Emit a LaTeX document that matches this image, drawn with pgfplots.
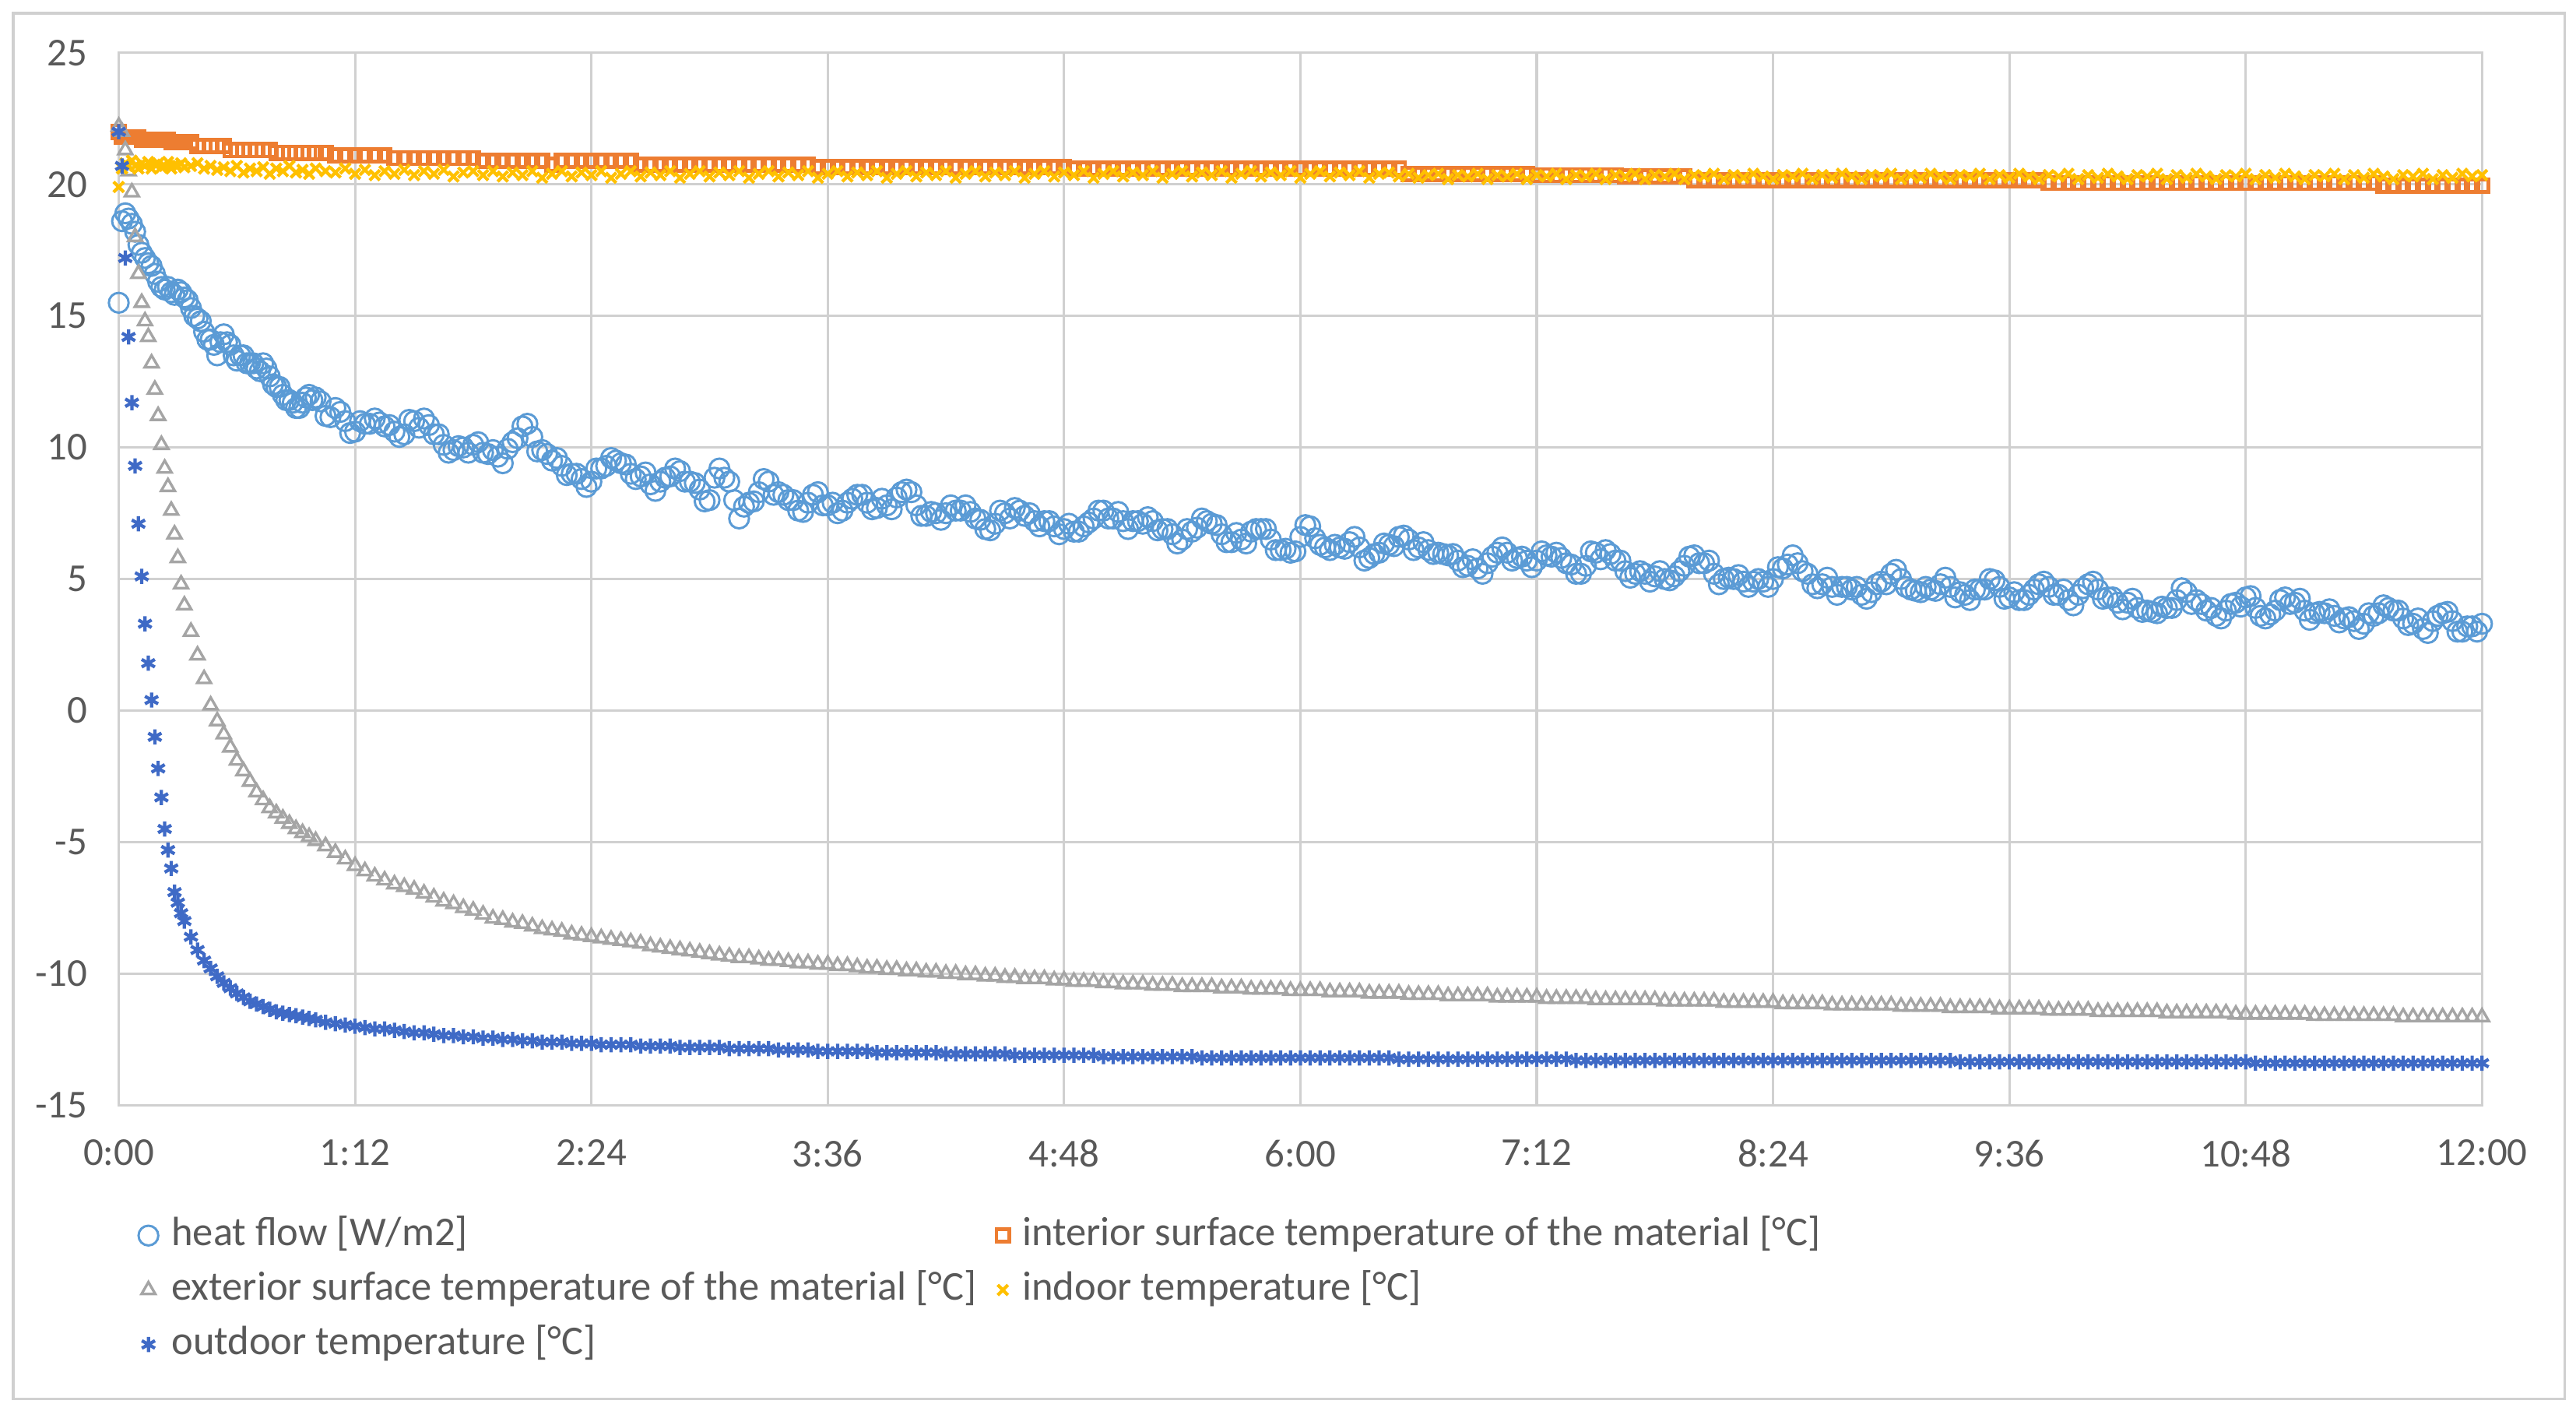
\documentclass[border=0pt]{standalone}
\usepackage{fontspec}
\setmainfont{Carlito}
\usepackage{pgfplots}
\usepackage{pgfplotstable}
\pgfplotsset{compat=1.18}
\definecolor{hfc}{HTML}{5B9BD5}
\definecolor{tic}{HTML}{ED7D31}
\definecolor{tec}{HTML}{A5A5A5}
\definecolor{tinc}{HTML}{FFC000}
\definecolor{toutc}{HTML}{3F6AC6}
\definecolor{gridc}{HTML}{D0D0D0}
\definecolor{labc}{HTML}{595959}
\pgfplotstableread{
t hf ti te tin tout
0 15.5 22.0 22.2 19.9 22.0
1 18.6 21.8 22.0 20.6 20.7
2 18.9 21.8 21.3 20.8 17.2
3 18.7 21.8 20.5 20.7 14.2
4 18.5 21.8 19.7 20.9 11.7
5 18.2 21.8 18.0 20.7 9.3
6 17.7 21.8 16.6 20.6 7.1
7 17.4 21.7 15.5 20.8 5.1
8 17.2 21.7 14.8 20.7 3.3
9 17.0 21.7 14.2 20.85 1.8
10 16.9 21.7 13.2 20.6 0.4
11 16.6 21.7 12.2 20.75 -1.0
12 16.3 21.7 11.2 20.8 -2.2
13 16.1 21.7 10.1 20.65 -3.3
14 16.0 21.7 9.2 20.7 -4.5
15 16.1 21.7 8.5 20.85 -5.3
16 15.9 21.6 7.6 20.6 -6.0
17 15.8 21.6 6.7 20.75 -6.9
18 16.0 21.6 5.8 20.7 -7.3
19 15.9 21.6 4.8 20.8 -7.7
20 15.7 21.6 4.0 20.65 -8.0
22 15.3 21.6 3.0 20.7 -8.6
24 14.9 21.45 2.1 20.8 -9.1
26 14.4 21.45 1.2 20.6 -9.5
28 14.1 21.45 0.2 20.7 -9.8
30 13.5 21.45 -0.4 20.55 -10.1
32 14.3 21.45 -0.9 20.65 -10.35
34 13.9 21.3 -1.4 20.5 -10.55
36 13.3 21.3 -1.9 20.7 -10.75
38 13.5 21.3 -2.3 20.45 -10.9
40 13.2 21.3 -2.7 20.6 -11.05
42 13.0 21.3 -3.1 20.5 -11.15
44 13.2 21.3 -3.4 20.65 -11.25
46 12.7 21.3 -3.7 20.4 -11.35
48 12.3 21.2 -3.9 20.6 -11.45
50 12.0 21.2 -4.1 20.5 -11.5
52 11.8 21.2 -4.3 20.7 -11.55
54 11.5 21.2 -4.5 20.45 -11.6
56 11.7 21.2 -4.65 20.55 -11.65
58 12.0 21.2 -4.8 20.4 -11.7
60 11.9 21.2 -4.95 20.6 -11.75
63 11.2 21.2 -5.15 20.5 -11.85
66 11.5 21.1 -5.4 20.45 -11.9
69 11.0 21.1 -5.65 20.6 -11.95
72 10.6 21.1 -5.9 20.4 -12.0
75 10.9 21.1 -6.1 20.55 -12.05
78 11.1 21.1 -6.3 20.35 -12.1
81 10.8 21.1 -6.45 20.5 -12.1
84 10.6 21.0 -6.6 20.4 -12.15
87 10.5 21.0 -6.7 20.55 -12.2
90 11.0 21.0 -6.8 20.35 -12.25
93 11.1 21.0 -6.95 20.5 -12.25
96 10.5 21.0 -7.1 20.4 -12.3
99 10.1 21.0 -7.25 20.55 -12.35
102 9.9 21.0 -7.35 20.3 -12.35
105 10.0 21.0 -7.5 20.45 -12.4
108 10.1 21.0 -7.6 20.5 -12.4
111 9.8 20.9 -7.75 20.35 -12.45
114 9.9 20.9 -7.9 20.5 -12.45
117 9.4 20.9 -7.95 20.3 -12.5
120 10.2 20.9 -8.05 20.45 -12.5
123 10.8 20.9 -8.1 20.35 -12.55
126 10.4 20.9 -8.2 20.5 -12.55
129 9.9 20.9 -8.3 20.25 -12.6
132 9.5 20.75 -8.35 20.4 -12.6
135 9.3 20.9 -8.4 20.5 -12.6
138 9.0 20.9 -8.5 20.3 -12.65
141 8.8 20.9 -8.55 20.45 -12.65
144 8.7 20.9 -8.6 20.35 -12.65
147 9.2 20.9 -8.65 20.5 -12.7
150 9.6 20.9 -8.7 20.25 -12.7
153 9.4 20.9 -8.75 20.4 -12.7
156 9.0 20.9 -8.8 20.5 -12.7
159 8.9 20.75 -8.85 20.3 -12.75
162 8.6 20.75 -8.95 20.45 -12.75
165 8.7 20.75 -9.0 20.35 -12.75
168 8.9 20.75 -9.05 20.5 -12.75
171 9.1 20.75 -9.1 20.25 -12.8
174 8.7 20.75 -9.15 20.4 -12.8
177 8.4 20.75 -9.2 20.5 -12.8
180 8.0 20.75 -9.25 20.3 -12.8
183 9.2 20.75 -9.3 20.45 -12.8
186 8.7 20.75 -9.35 20.35 -12.85
189 7.3 20.75 -9.4 20.5 -12.85
192 7.9 20.75 -9.4 20.25 -12.85
195 8.3 20.75 -9.45 20.4 -12.85
198 8.7 20.75 -9.5 20.5 -12.85
201 8.3 20.75 -9.5 20.3 -12.9
204 8.0 20.75 -9.55 20.45 -12.9
207 7.6 20.75 -9.6 20.35 -12.9
210 7.9 20.75 -9.6 20.5 -12.9
213 8.3 20.65 -9.65 20.25 -12.95
216 7.8 20.65 -9.65 20.4 -12.95
219 7.5 20.65 -9.7 20.5 -12.95
222 7.9 20.65 -9.7 20.3 -12.95
225 8.2 20.65 -9.75 20.45 -12.95
228 7.9 20.65 -9.8 20.35 -12.95
231 7.7 20.65 -9.8 20.5 -13.0
234 7.8 20.65 -9.85 20.25 -13.0
237 8.1 20.65 -9.85 20.4 -13.0
240 8.4 20.65 -9.9 20.5 -13.0
243 7.8 20.65 -9.9 20.3 -13.0
246 7.4 20.65 -9.95 20.45 -13.0
249 7.5 20.65 -9.95 20.35 -13.0
252 7.5 20.65 -10.0 20.5 -13.05
255 7.6 20.65 -10.0 20.25 -13.05
258 7.8 20.65 -10.05 20.4 -13.05
261 7.3 20.65 -10.05 20.5 -13.05
264 6.9 20.65 -10.1 20.3 -13.05
267 7.1 20.65 -10.1 20.45 -13.05
270 7.5 20.65 -10.15 20.35 -13.05
273 7.7 20.65 -10.15 20.5 -13.1
276 7.4 20.65 -10.2 20.25 -13.1
279 7.2 20.65 -10.2 20.4 -13.1
282 7.2 20.65 -10.2 20.5 -13.1
285 7.0 20.65 -10.25 20.3 -13.1
288 6.9 20.65 -10.25 20.45 -13.1
291 6.8 20.6 -10.3 20.35 -13.1
294 7.0 20.6 -10.3 20.5 -13.1
297 7.3 20.6 -10.3 20.25 -13.1
300 7.6 20.6 -10.35 20.4 -13.15
303 7.3 20.6 -10.35 20.5 -13.15
306 7.2 20.6 -10.4 20.3 -13.15
309 7.2 20.6 -10.4 20.45 -13.15
312 7.1 20.6 -10.4 20.35 -13.15
315 7.2 20.6 -10.45 20.5 -13.15
318 6.9 20.6 -10.45 20.25 -13.15
321 6.7 20.6 -10.45 20.4 -13.15
324 6.5 20.6 -10.5 20.5 -13.15
327 6.8 20.6 -10.5 20.3 -13.15
330 7.3 20.6 -10.5 20.45 -13.2
333 7.1 20.6 -10.5 20.35 -13.2
336 6.7 20.6 -10.55 20.5 -13.2
339 6.4 20.6 -10.55 20.25 -13.2
342 6.5 20.6 -10.55 20.4 -13.2
345 6.8 20.6 -10.6 20.5 -13.2
348 6.9 20.6 -10.6 20.3 -13.2
351 6.5 20.6 -10.6 20.45 -13.2
354 6.1 20.6 -10.6 20.35 -13.2
357 6.0 20.6 -10.65 20.5 -13.2
360 6.6 20.6 -10.65 20.25 -13.2
363 7.0 20.6 -10.65 20.4 -13.2
366 6.3 20.6 -10.65 20.5 -13.2
369 6.1 20.6 -10.7 20.3 -13.2
372 6.2 20.6 -10.7 20.45 -13.2
375 6.4 20.6 -10.7 20.35 -13.2
378 6.2 20.6 -10.7 20.5 -13.2
381 5.8 20.6 -10.75 20.25 -13.2
384 6.0 20.6 -10.75 20.4 -13.2
387 6.3 20.6 -10.75 20.45 -13.2
390 6.6 20.6 -10.75 20.3 -13.25
393 6.5 20.4 -10.8 20.4 -13.25
396 6.2 20.4 -10.8 20.25 -13.25
399 6.1 20.4 -10.8 20.35 -13.25
402 6.0 20.4 -10.8 20.4 -13.25
405 5.9 20.4 -10.85 20.2 -13.25
408 5.7 20.4 -10.85 20.35 -13.25
411 5.5 20.4 -10.85 20.3 -13.25
414 5.4 20.4 -10.85 20.4 -13.25
417 5.6 20.4 -10.85 20.2 -13.25
420 6.0 20.4 -10.9 20.35 -13.25
423 6.0 20.4 -10.9 20.3 -13.25
426 5.8 20.4 -10.9 20.4 -13.25
429 5.7 20.4 -10.9 20.2 -13.25
432 5.7 20.35 -10.9 20.35 -13.25
435 5.9 20.35 -10.95 20.3 -13.25
438 6.0 20.35 -10.95 20.4 -13.25
441 5.6 20.35 -10.95 20.2 -13.25
444 5.2 20.35 -10.95 20.35 -13.3
447 5.5 20.35 -10.95 20.3 -13.3
450 6.0 20.35 -11.0 20.4 -13.3
453 6.1 20.35 -11.0 20.2 -13.3
456 5.7 20.35 -11.0 20.35 -13.3
459 5.3 20.3 -11.0 20.3 -13.3
462 5.2 20.3 -11.0 20.4 -13.3
465 5.2 20.3 -11.0 20.2 -13.3
468 5.1 20.3 -11.0 20.35 -13.3
471 5.0 20.3 -11.05 20.3 -13.3
474 5.1 20.3 -11.05 20.4 -13.3
477 5.5 20.3 -11.05 20.2 -13.3
480 5.9 20.15 -11.05 20.35 -13.3
483 5.6 20.15 -11.05 20.3 -13.3
486 5.2 20.15 -11.05 20.4 -13.3
489 5.0 20.15 -11.1 20.2 -13.3
492 5.0 20.15 -11.1 20.35 -13.3
495 4.9 20.15 -11.1 20.25 -13.3
498 4.9 20.15 -11.1 20.4 -13.3
501 4.9 20.15 -11.1 20.3 -13.3
504 5.0 20.15 -11.1 20.2 -13.3
507 5.4 20.15 -11.15 20.35 -13.3
510 5.9 20.15 -11.15 20.3 -13.3
513 5.3 20.15 -11.15 20.4 -13.3
516 4.8 20.15 -11.15 20.2 -13.3
519 4.8 20.15 -11.15 20.35 -13.3
522 4.7 20.15 -11.2 20.25 -13.3
525 4.7 20.15 -11.2 20.4 -13.3
528 4.6 20.15 -11.2 20.3 -13.3
531 4.4 20.15 -11.2 20.2 -13.3
534 4.5 20.15 -11.2 20.35 -13.3
537 4.9 20.15 -11.2 20.3 -13.3
540 5.2 20.15 -11.2 20.4 -13.3
543 5.0 20.15 -11.25 20.2 -13.3
546 4.6 20.15 -11.25 20.35 -13.3
549 4.5 20.15 -11.25 20.25 -13.3
552 4.6 20.15 -11.25 20.4 -13.3
555 4.8 20.15 -11.25 20.3 -13.3
558 4.7 20.15 -11.3 20.2 -13.3
561 4.5 20.15 -11.3 20.35 -13.35
564 4.2 20.15 -11.3 20.3 -13.35
567 4.6 20.15 -11.3 20.4 -13.35
570 5.0 20.15 -11.3 20.2 -13.35
573 4.7 20.15 -11.35 20.35 -13.35
576 4.3 20.15 -11.35 20.25 -13.35
579 4.2 20.15 -11.35 20.4 -13.35
582 4.4 20.15 -11.35 20.3 -13.35
585 4.8 20.15 -11.35 20.2 -13.35
588 4.7 20.05 -11.4 20.35 -13.35
591 4.4 20.05 -11.4 20.3 -13.35
594 4.2 20.05 -11.4 20.4 -13.35
597 4.4 20.05 -11.4 20.2 -13.35
600 4.8 20.05 -11.4 20.35 -13.35
603 4.6 20.05 -11.45 20.25 -13.35
606 4.3 20.05 -11.45 20.4 -13.35
609 4.1 20.05 -11.45 20.3 -13.35
612 4.1 20.05 -11.45 20.2 -13.35
615 3.9 20.05 -11.45 20.35 -13.35
618 3.8 20.05 -11.45 20.3 -13.35
621 3.7 20.05 -11.45 20.4 -13.35
624 3.9 20.05 -11.5 20.2 -13.35
627 4.2 20.05 -11.5 20.35 -13.35
630 4.5 20.05 -11.5 20.25 -13.35
633 4.2 20.05 -11.5 20.4 -13.35
636 3.8 20.05 -11.5 20.3 -13.35
639 3.6 20.05 -11.5 20.2 -13.35
642 3.8 20.05 -11.5 20.35 -13.35
645 4.1 20.05 -11.55 20.3 -13.35
648 4.3 20.05 -11.55 20.4 -13.35
651 3.9 20.05 -11.55 20.2 -13.4
654 3.5 20.05 -11.55 20.35 -13.4
657 3.8 20.05 -11.55 20.25 -13.4
660 4.3 20.05 -11.55 20.4 -13.4
663 4.1 20.05 -11.55 20.3 -13.4
666 3.8 20.05 -11.55 20.2 -13.4
669 3.7 20.05 -11.6 20.35 -13.4
672 3.7 20.05 -11.6 20.3 -13.4
675 3.6 20.05 -11.6 20.4 -13.4
678 3.5 20.05 -11.6 20.2 -13.4
681 3.4 20.05 -11.6 20.35 -13.4
684 3.3 20.05 -11.6 20.25 -13.4
687 3.6 20.05 -11.6 20.4 -13.4
690 4.0 19.95 -11.6 20.3 -13.4
693 3.8 19.95 -11.6 20.2 -13.4
696 3.5 19.95 -11.65 20.35 -13.4
699 3.3 19.95 -11.65 20.3 -13.4
702 3.1 19.95 -11.65 20.4 -13.4
705 3.4 19.95 -11.65 20.2 -13.4
708 3.7 19.95 -11.65 20.35 -13.4
711 3.4 19.95 -11.65 20.25 -13.4
714 3.0 19.95 -11.65 20.4 -13.4
717 3.2 19.95 -11.65 20.3 -13.4
720 3.3 19.95 -11.65 20.35 -13.4
}\datatable
% heat flow readings between the rows above
\pgfplotstableread{
t hf
21 15.6
23 15.0
25 14.8
27 14.1
29 13.9
31 14.0
33 14.0
35 13.5
37 13.5
39 13.2
41 13.2
43 12.9
45 13.0
47 12.4
49 12.3
51 11.8
53 11.7
55 11.5
57 11.9
59 11.8
61.5 11.75
64.5 11.15
67.5 11.35
70.5 10.55
73.5 11.0
76.5 10.9
79.5 10.95
82.5 10.85
85.5 10.4
88.5 11.05
91.5 10.75
94.5 10.85
97.5 10.5
100.5 9.8
103.5 10.05
106.5 9.8
109.5 10.2
112.5 9.75
115.5 9.65
118.5 9.95
121.5 10.35
124.5 10.9
127.5 9.85
130.5 9.75
133.5 9.6
136.5 8.95
139.5 9.0
142.5 8.5
145.5 9.2
148.5 9.3
151.5 9.5
154.5 9.35
157.5 8.8
160.5 9.05
163.5 8.35
166.5 8.85
169.5 9.2
172.5 8.7
175.5 8.65
178.5 7.95
181.5 8.85
184.5 8.85
187.5 8.0
190.5 7.75
193.5 7.95
196.5 8.8
199.5 8.2
202.5 8.2
205.5 8.0
208.5 7.55
211.5 8.2
214.5 7.8
217.5 7.9
220.5 7.6
223.5 8.05
226.5 8.2
229.5 7.65
232.5 8.05
235.5 7.65
238.5 8.3
241.5 8.3
244.5 7.4
247.5 7.55
250.5 7.25
253.5 7.8
256.5 7.6
259.5 7.55
262.5 7.25
265.5 6.85
268.5 7.6
271.5 7.3
274.5 7.6
277.5 7.5
280.5 7.0
283.5 7.2
286.5 6.7
289.5 7.1
292.5 6.8
295.5 7.15
298.5 7.6
301.5 7.3
304.5 7.55
307.5 6.9
310.5 7.2
313.5 7.35
316.5 6.85
319.5 6.9
322.5 6.35
325.5 6.9
328.5 6.95
331.5 7.2
334.5 7.05
337.5 6.4
340.5 6.75
343.5 6.35
346.5 6.9
349.5 6.9
352.5 6.1
355.5 6.15
358.5 6.05
361.5 7.05
364.5 6.55
367.5 6.2
370.5 6.3
373.5 6.15
376.5 6.6
379.5 5.7
382.5 5.95
385.5 6.35
388.5 6.25
391.5 6.65
394.5 6.1
397.5 6.4
400.5 5.95
403.5 5.95
406.5 5.95
409.5 5.45
412.5 5.75
415.5 5.2
418.5 5.85
421.5 6.2
424.5 5.7
427.5 5.85
430.5 5.45
433.5 6.05
436.5 5.85
439.5 5.8
442.5 5.55
445.5 5.2
448.5 6.05
451.5 5.75
454.5 5.95
457.5 5.7
460.5 5.05
463.5 5.3
466.5 4.9
469.5 5.3
472.5 4.95
475.5 5.3
478.5 5.85
481.5 5.6
484.5 5.7
487.5 4.8
490.5 5.05
493.5 5.15
496.5 4.7
499.5 5.0
502.5 4.7
505.5 5.45
508.5 5.55
511.5 5.6
514.5 5.2
517.5 4.65
520.5 5.05
523.5 4.4
526.5 4.7
529.5 4.7
532.5 4.25
535.5 4.8
538.5 4.8
541.5 5.35
544.5 4.7
547.5 4.55
550.5 4.7
553.5 4.55
556.5 5.05
559.5 4.3
562.5 4.4
565.5 4.6
568.5 4.6
571.5 4.95
574.5 4.25
577.5 4.5
580.5 4.2
583.5 4.6
586.5 4.9
589.5 4.4
592.5 4.6
595.5 4.0
598.5 4.65
601.5 4.9
604.5 4.25
607.5 4.3
610.5 3.85
613.5 4.25
616.5 3.75
619.5 3.75
622.5 3.95
625.5 3.9
628.5 4.65
631.5 4.05
634.5 4.05
637.5 3.9
640.5 3.5
643.5 4.05
646.5 3.95
649.5 4.35
652.5 3.6
655.5 3.65
658.5 4.2
661.5 4.05
664.5 4.25
667.5 3.45
670.5 3.75
673.5 3.85
676.5 3.35
679.5 3.55
682.5 3.1
685.5 3.7
688.5 3.7
691.5 3.9
694.5 3.8
697.5 3.25
700.5 3.5
703.5 2.95
706.5 3.6
709.5 3.75
712.5 3.0
715.5 3.2
718.5 3.0
}\hfmid
\begin{document}
\begin{tikzpicture}
\begin{axis}[
  at={(0pt,0pt)}, anchor=south west,
  scale only axis, width=716.5pt, height=319pt,
  xmin=0, xmax=720, ymin=-15, ymax=25,
  xtick={0,72,144,216,288,360,432,504,576,648,720},
  xticklabels={0:00,1:12,2:24,3:36,4:48,6:00,7:12,8:24,9:36,10:48,12:00},
  ytick={-15,-10,-5,0,5,10,15,20,25},
  yticklabels={-15,-10,-5,0,5,10,15,20,25},
  grid=major,
  major grid style={draw=gridc, line width=0.75pt},
  axis line style={draw=gridc, line width=0.75pt},
  tick style={draw=none},
  ticklabel style={font=\fontsize{12}{14}\selectfont, text=labc},
  xticklabel style={yshift=-7pt},
  yticklabel style={xshift=-6pt},
  clip=false,
  legend columns=2,
  legend image code/.code={\draw[mark repeat=2,mark phase=2,#1] plot coordinates {(0pt,0pt) (3pt,0pt) (6pt,0pt)};},
  legend style={draw=none, fill=none, inner sep=0pt, outer sep=0pt,
    at={(axis description cs:0.00837,-0.1019)}, anchor=north west,
    row sep=2.5pt, column sep=0pt,
    nodes={inner sep=1pt, anchor=west, text height=9pt, text depth=3pt,
      font=\fontsize{12.4}{14}\selectfont, text=labc},
    /tikz/every odd column/.append style={column sep=3pt},
    /tikz/every even column/.append style={column sep=5pt}},
]
\addplot[only marks, mark=o, mark size=3pt, color=hfc, mark options={line width=0.7pt}] table[x=t, y=hf] {\datatable};
\addlegendentry{heat flow [W/m2]}
\addplot[only marks, mark=o, mark size=3pt, color=hfc, mark options={line width=0.7pt}, forget plot] table[x=t, y=hf] {\hfmid};
\addplot[only marks, mark=square, mark size=1.9pt, color=tic, mark options={line width=1.1pt}] table[x=t, y=ti] {\datatable};
\addlegendentry{interior surface temperature of the material [°C]}
\addplot[only marks, mark=triangle, mark size=2.4pt, color=tec, mark options={line width=0.8pt}] table[x=t, y=te] {\datatable};
\addlegendentry{exterior surface temperature of the material [°C]}
\addplot[only marks, mark=x, mark size=2.2pt, color=tinc, mark options={line width=1pt}] table[x=t, y=tin] {\datatable};
\addlegendentry{indoor temperature [°C]}
\addplot[only marks, mark=asterisk, mark size=2.3pt, color=toutc, mark options={line width=1pt}] table[x=t, y=tout] {\datatable};
\addlegendentry{outdoor temperature [°C]}
\end{axis}
\draw[gridc, line width=0.75pt] (-32pt,-89pt) rectangle (741.5pt,331pt);
\path (-36pt,-92.5pt) rectangle (745pt,335pt);
\end{tikzpicture}
\end{document}
